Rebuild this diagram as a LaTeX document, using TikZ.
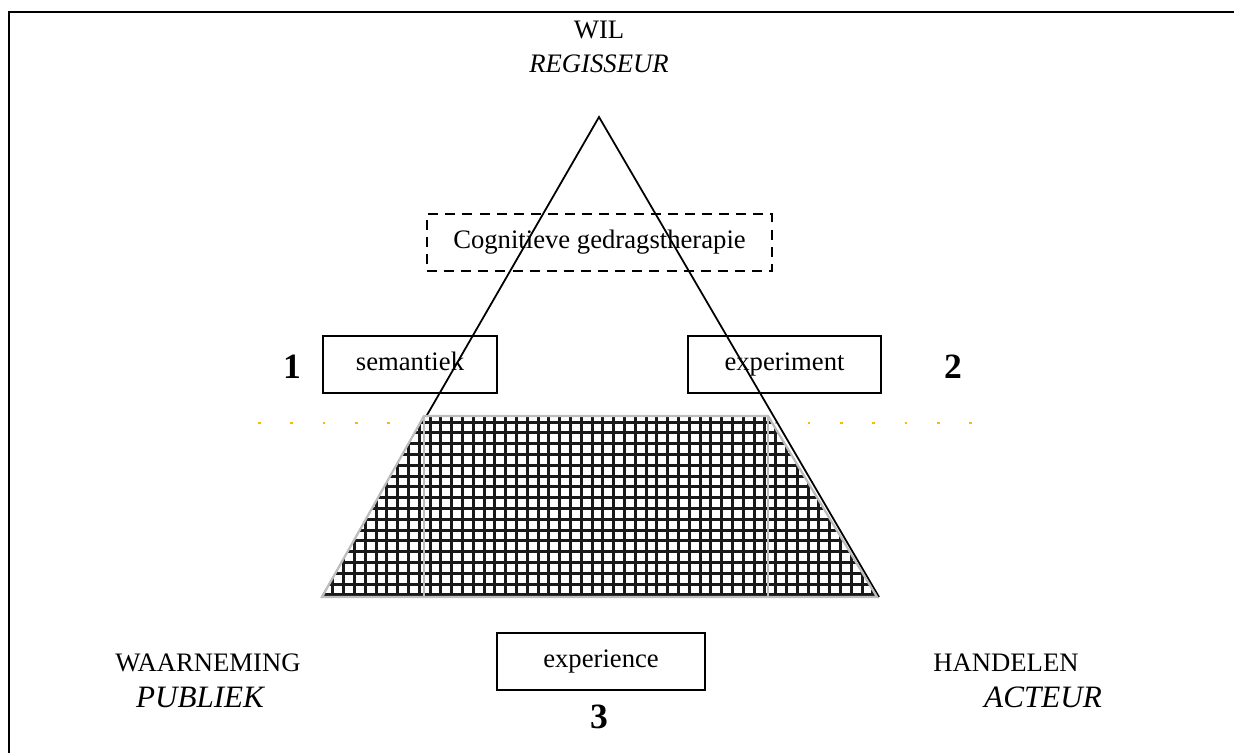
\documentclass[tikz,border=0pt]{standalone}
\usepackage{fontspec}
\setmainfont{Liberation Serif}
\begin{document}
\begin{tikzpicture}[x=0.45pt,y=-0.45pt,
		txt/.style={font=\fontsize{12}{14}\selectfont, inner sep=0pt},
		role/.style={font=\fontsize{14}{16}\selectfont\itshape, inner sep=0pt},
		num/.style={font=\fontsize{16}{19}\selectfont\bfseries, inner sep=0pt},
		termbox/.style={draw, line width=0.9pt, minimum height=25.65pt, inner sep=0pt,
			text height=0.74em, text depth=0.18em, font=\fontsize{12}{14}\selectfont},
		gridline/.style={line width=1.35pt, black!90}]
		
		\definecolor{dotcol}{HTML}{FFB800}
		\definecolor{edgecol}{HTML}{BDBDBD}
		
		\useasboundingbox (0,0) rectangle (1234,753);
		
		% Frame
		\draw[line width=1.2pt] (9,753) -- (9,12) -- (1234,12);
		
		% Corners of the triangle and the trapezoid
		\coordinate (apex) at (599,117);
		\coordinate (bl) at (322,597);
		\coordinate (br) at (879,597);
		\coordinate (tl) at (424,416);
		\coordinate (tr) at (768,416);
		\coordinate (ibr) at (877,597);
		
		% Dotted level line
		\draw[dotcol, line width=1.2pt, dash pattern=on 1.2pt off 13.35pt] (258,423) -- (972,423);
		
		% Triangle
		\draw[line width=0.8pt] (bl) -- (apex) -- (br);
		
		% Hatched trapezoid
		\fill[white] (bl) -- (tl) -- (tr) -- (ibr) -- cycle;
		\begin{scope}
			\clip (bl) -- (tl) -- (tr) -- (ibr) -- cycle;
			\foreach \gx in {322,332.8,...,880}
			\draw[gridline] (\gx,410) -- (\gx,600);
			\foreach \gy in {422,432.8,...,600}
			\draw[gridline] (318,\gy) -- (882,\gy);
		\end{scope}
		\draw[edgecol, line width=1pt] (bl) -- (tl) -- (tr) -- (ibr) -- cycle;
		\draw[edgecol, line width=1pt] (tl) -- (424,597);
		\draw[edgecol, line width=1pt] (tr) -- (768,597);
		
		% Corner labels
		\node[txt] (wil) at (599,30) {WIL};
		\node[txt] (regisseur) at (599,64) {\itshape REGISSEUR};
		\node[txt] (waarneming) at (208,663) {WAARNEMING};
		\node[role] (publiek) at (200,697) {PUBLIEK};
		\node[txt] (handelen) at (1006,663) {HANDELEN};
		\node[role] (acteur) at (1043,697) {ACTEUR};
		
		% Boxes
		\node[termbox, dash pattern=on 4.5pt off 3.2pt, line width=0.75pt, minimum width=155.25pt] (cgt) at (599.5,242.5) {Cognitieve gedragstherapie};
		\node[termbox, minimum width=78.3pt] (semantiek) at (410,364.5) {semantiek};
		\node[termbox, minimum width=86.85pt] (experiment) at (784.5,364.5) {experiment};
		\node[termbox, fill=white, minimum width=93.6pt] (experience) at (601,661.5) {experience};
		
		% Numbers
		\node[num] (n1) at (292,367) {1};
		\node[num] (n2) at (953,367) {2};
		\node[num] (n3) at (599,717) {3};
		
	\end{tikzpicture}
\end{document}
